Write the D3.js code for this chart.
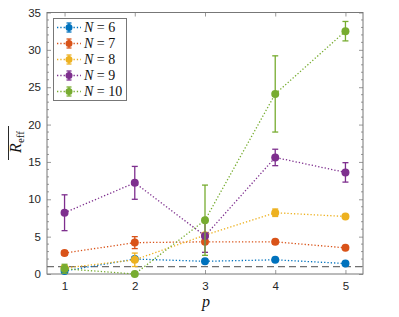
<!DOCTYPE html>
<html lang="en">
<head>
<meta charset="UTF-8">
<title>R_eff vs p</title>
<script src="https://cdn.jsdelivr.net/npm/d3@7"></script>
<style>
    body { margin: 0; background: #fff; }
</style>
</head>
<body>
<svg id="main" width="399" height="317"></svg>
<script>
    // x positions
    let pValues = [1, 2, 3, 4, 5]
    let nLabels = ["6", "7", "8", "9", "10"]
    let colors = ["#0072BD", "#D95319", "#EDB120", "#7E2F8E", "#77AC30"]

    // mean values per N
    let meanN6 = [0.4, 2.0, 1.7, 1.9, 1.4]
    let meanN7 = [2.8, 4.2, 4.3, 4.3, 3.5]
    let meanN8 = [0.8, 1.9, 5.2, 8.2, 7.7]
    let meanN9 = [8.2, 12.2, 5.1, 15.6, 13.6]
    let meanN10 = [0.7, 0.0, 7.2, 24.1, 32.5]

    // error half widths per N
    let errN6 = [0.2, 0.3, 0.2, 0.2, 0.2]
    let errN7 = [0.3, 0.8, 0.3, 0.3, 0.2]
    let errN8 = [0.3, 0.9, 0.3, 0.5, 0.2]
    let errN9 = [2.4, 2.2, 2.2, 1.1, 1.3]
    let errN10 = [0.6, 0.0, 4.7, 5.1, 1.3]

    let means = [meanN6, meanN7, meanN8, meanN9, meanN10]
    let errs = [errN6, errN7, errN8, errN9, errN10]

    let yTicks = [0, 5, 10, 15, 20, 25, 30, 35]
    let refLine = 1

    let sans = "'Liberation Sans', Arial, sans-serif"
    let serif = "'Liberation Serif', 'DejaVu Serif', serif"

    let svg = d3.select("#main")
    let mLeft = 47, mRight = 363, mTop = 12.5, mBottom = 274

    let x = d3.scaleLinear().domain([0.75, 5.25]).range([mLeft, mRight])
    let y = d3.scaleLinear().domain([0, 35]).range([mBottom, mTop])

    // axes
    let frame = svg.append("g")
    frame.append("g")
        .attr("transform", `translate(0,${mBottom})`)
        .call(d3.axisBottom(x).tickValues(pValues).tickFormat(d3.format("d"))
            .tickSize(-4).tickPadding(8).tickSizeOuter(0))
    frame.append("g")
        .attr("transform", `translate(${mLeft},0)`)
        .call(d3.axisLeft(y).tickValues(yTicks).tickFormat(d3.format("d"))
            .tickSize(-4).tickPadding(6).tickSizeOuter(0))
    // top and right ticks
    frame.append("g")
        .attr("transform", `translate(0,${mTop})`)
        .call(d3.axisTop(x).tickValues(pValues).tickSize(-4).tickFormat("").tickSizeOuter(0))
    frame.append("g")
        .attr("transform", `translate(${mRight},0)`)
        .call(d3.axisRight(y).tickValues(yTicks).tickSize(-4).tickFormat("").tickSizeOuter(0))
    frame.selectAll(".tick text")
        .attr("font-family", sans).attr("font-size", 11.5).attr("fill", "#262626")
    // minor ticks
    let minor = d3.range(0, 36).filter(function (d) { return d % 5 !== 0 })
    frame.append("g").selectAll("line").data(minor).join("line")
        .attr("x1", mLeft).attr("x2", mLeft + 2)
        .attr("y1", d => y(d)).attr("y2", d => y(d))
    frame.append("g").selectAll("line").data(minor).join("line")
        .attr("x1", mRight).attr("x2", mRight - 2)
        .attr("y1", d => y(d)).attr("y2", d => y(d))
    frame.selectAll("line").attr("stroke", "#555").attr("stroke-width", 0.6)
    frame.selectAll(".domain").remove()
    frame.append("rect")
        .attr("x", mLeft).attr("y", mTop)
        .attr("width", mRight - mLeft).attr("height", mBottom - mTop)
        .attr("fill", "none").attr("stroke", "#777").attr("stroke-width", 1)

    // reference line
    svg.append("line")
        .attr("x1", mLeft).attr("x2", mRight)
        .attr("y1", y(refLine)).attr("y2", y(refLine))
        .attr("stroke", "#707070").attr("stroke-width", 1.2)
        .attr("stroke-dasharray", "7,4")

    // series
    let line = d3.line().x((d, i) => x(pValues[i])).y(d => y(d))
    means.forEach(function (m, k) {
        let g = svg.append("g")
        let c = colors[k]
        g.append("path").datum(m)
            .attr("d", line)
            .attr("fill", "none").attr("stroke", c)
            .attr("stroke-width", 1.3).attr("stroke-dasharray", "1.3,2")
        m.forEach(function (v, i) {
            let e = errs[k][i]
            let px = x(pValues[i])
            g.append("line")
                .attr("x1", px).attr("x2", px)
                .attr("y1", y(v - e)).attr("y2", y(v + e))
                .attr("stroke", c).attr("stroke-width", 1.3)
            ;[v - e, v + e].forEach(function (b) {
                g.append("line")
                    .attr("x1", px - 3).attr("x2", px + 3)
                    .attr("y1", y(b)).attr("y2", y(b))
                    .attr("stroke", c).attr("stroke-width", 1.3)
            })
            g.append("circle")
                .attr("cx", px).attr("cy", y(v)).attr("r", 4)
                .attr("fill", c)
        })
    })

    // legend
    let lg = svg.append("g")
    lg.append("rect")
        .attr("x", 53.5).attr("y", 18.5).attr("width", 73).attr("height", 82)
        .attr("fill", "#fff").attr("stroke", "#777")
    nLabels.forEach(function (n, k) {
        let ly = 27.5 + k * 16
        let c = colors[k]
        lg.append("line")
            .attr("x1", 57).attr("x2", 81).attr("y1", ly).attr("y2", ly)
            .attr("stroke", c).attr("stroke-width", 1.3).attr("stroke-dasharray", "1.3,2")
        lg.append("line")
            .attr("x1", 69).attr("x2", 69).attr("y1", ly - 4.5).attr("y2", ly + 4.5)
            .attr("stroke", c).attr("stroke-width", 1.3)
        ;[ly - 4.5, ly + 4.5].forEach(function (b) {
            lg.append("line").attr("x1", 66.5).attr("x2", 71.5).attr("y1", b).attr("y2", b)
                .attr("stroke", c).attr("stroke-width", 1.3)
        })
        lg.append("circle").attr("cx", 69).attr("cy", ly).attr("r", 3.5).attr("fill", c)
        let t = lg.append("text")
            .attr("font-family", serif)
            .attr("x", 84).attr("y", ly + 4.5).attr("font-size", 14).attr("fill", "#111")
        t.append("tspan").attr("font-style", "italic").text("N")
        t.append("tspan").text(" = " + n)
    })

    // axis labels
    svg.append("text").attr("font-family", serif)
        .attr("x", (mLeft + mRight) / 2 + 1).attr("y", 307)
        .attr("text-anchor", "middle").attr("font-size", 16).attr("font-style", "italic")
        .attr("fill", "#111").text("p")
    let yl = svg.append("text").attr("font-family", serif)
        .attr("transform", "translate(21,142) rotate(-90)")
        .attr("text-anchor", "middle").attr("font-size", 16).attr("fill", "#111")
    yl.append("tspan").attr("font-style", "italic").text("R")
    yl.append("tspan").attr("font-size", 11).attr("dy", 3).text("eff")
    svg.append("line")
        .attr("x1", 8.5).attr("x2", 8.5).attr("y1", 126).attr("y2", 160)
        .attr("stroke", "#111").attr("stroke-width", 0.9)
</script>
</body>
</html>
